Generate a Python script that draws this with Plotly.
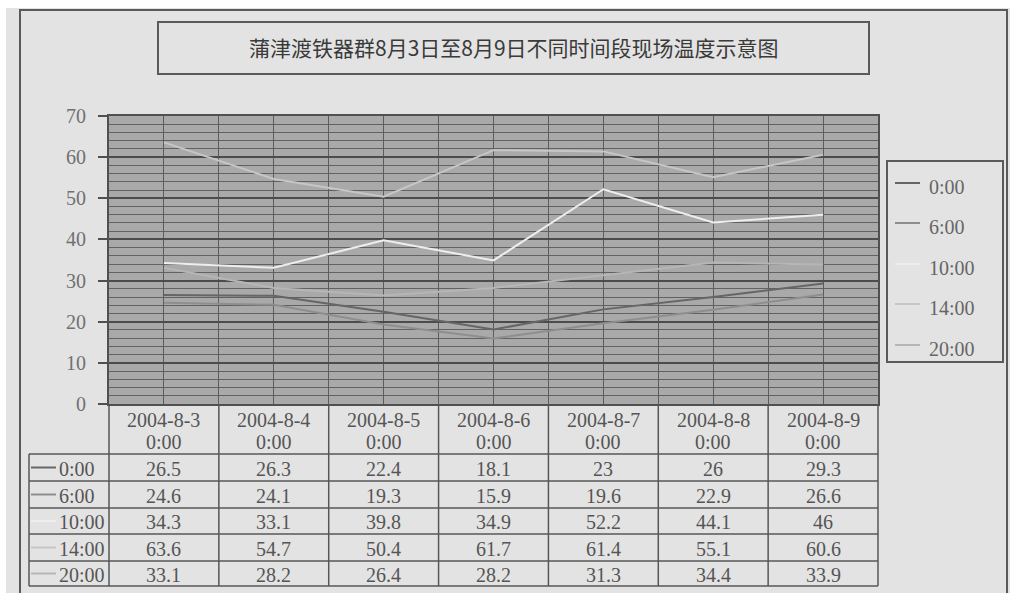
import plotly.graph_objects as go

# Dates on the category axis (each reading taken at 0:00 of that day)
dates = ["2004-8-3", "2004-8-4", "2004-8-5", "2004-8-6", "2004-8-7", "2004-8-8", "2004-8-9"]
date_time = "0:00"

# Time-of-day series names
series_names = ["0:00", "6:00", "10:00", "14:00", "20:00"]

# Site temperatures (°C) per time of day
temp_0000 = [26.5, 26.3, 22.4, 18.1, 23, 26, 29.3]
temp_0600 = [24.6, 24.1, 19.3, 15.9, 19.6, 22.9, 26.6]
temp_1000 = [34.3, 33.1, 39.8, 34.9, 52.2, 44.1, 46]
temp_1400 = [63.6, 54.7, 50.4, 61.7, 61.4, 55.1, 60.6]
temp_2000 = [33.1, 28.2, 26.4, 28.2, 31.3, 34.4, 33.9]

y_ticks = [0, 10, 20, 30, 40, 50, 60, 70]

title_text = "蒲津渡铁器群8月3日至8月9日不同时间段现场温度示意图"

series_values = [temp_0000, temp_0600, temp_1000, temp_1400, temp_2000]
series_colors = ["#666666", "#8e8e8e", "#eeeeee", "#c6c6c6", "#b6b6b6"]

W, H = 1010, 593
PL, PR, PT, PB = 109, 878, 116, 404  # plot area in pixels

SERIF = "Liberation Serif"
TEXT_DARK = "#555555"
LINE_DARK = "#575757"


def px(x):
    return (x - PL) / (PR - PL)


def py(y):
    return (PB - y) / (PB - PT)


fig = go.Figure()
xs = list(range(len(dates)))
for name, vals, col in zip(series_names, series_values, series_colors):
    fig.add_trace(go.Scatter(x=xs, y=vals, mode="lines", name=name,
                             line=dict(color=col, width=2), showlegend=False))

shapes = []
annotations = []


def rect(x0, y0, x1, y1, color=LINE_DARK, width=2, fill=None, layer="above"):
    shapes.append(dict(type="rect", xref="paper", yref="paper",
                       x0=px(x0), x1=px(x1), y0=py(y0), y1=py(y1),
                       line=dict(color=color, width=width),
                       fillcolor=fill, layer=layer))


def hline(x0, x1, y, color=LINE_DARK, width=1.5):
    shapes.append(dict(type="line", xref="paper", yref="paper",
                       x0=px(x0), x1=px(x1), y0=py(y), y1=py(y),
                       line=dict(color=color, width=width)))


def vline(x, y0, y1, color=LINE_DARK, width=1.5):
    shapes.append(dict(type="line", xref="paper", yref="paper",
                       x0=px(x), x1=px(x), y0=py(y0), y1=py(y1),
                       line=dict(color=color, width=width)))


def text(x, y, s, size=20, color=TEXT_DARK, anchor="center", family=SERIF):
    annotations.append(dict(xref="paper", yref="paper", x=px(x), y=py(y),
                            text=s, showarrow=False, xanchor=anchor,
                            yanchor="middle",
                            font=dict(family=family, size=size, color=color)))


# white page margin at top/left of the sheet
rect(0, 0, W, 8, color="rgba(0,0,0,0)", width=0, fill="#ffffff", layer="below")
rect(0, 0, 6, H, color="rgba(0,0,0,0)", width=0, fill="#ffffff", layer="below")

# chart frame
rect(20, 10, 1007, H + 10, color="#5a5a5a", width=2)

# title box
rect(158, 22, 869, 74, color="#5a5a5a", width=2)
text((158 + 869) / 2, 47, title_text, size=21, color="#3a3a3a",
     family="Noto Sans CJK SC")

# legend box
rect(887, 161, 1003, 362, color="#5a5a5a", width=2)
leg_y = [187, 227, 268, 308, 349]
for name, col, yy in zip(series_names, series_colors, leg_y):
    hline(895, 920, yy - 4, color=col, width=2)
    text(927, yy, name, size=20, color="#666666", anchor="left")

# data table under the plot
cat_w = (PR - PL) / len(dates)
bounds = [PL + i * cat_w for i in range(len(dates) + 1)]
row_lines = [454, 481, 508, 534, 561, 586]
table_top = 405

for b in bounds:
    vline(b, table_top, row_lines[-1])
for r in row_lines:
    hline(29, PR, r)
vline(29, row_lines[0], row_lines[-1])

for i, d in enumerate(dates):
    cx = (bounds[i] + bounds[i + 1]) / 2
    text(cx, 420, d)
    text(cx, 442, date_time)

for j, (name, vals, col) in enumerate(zip(series_names, series_values, series_colors)):
    cy = (row_lines[j] + row_lines[j + 1]) / 2 + 1
    hline(31, 56, cy - 1, color=col, width=2)
    text(57, cy, name, anchor="left")
    for i, v in enumerate(vals):
        cx = (bounds[i] + bounds[i + 1]) / 2
        text(cx, cy, f"{v:g}")

fig.update_layout(
    width=W, height=H,
    margin=dict(l=PL, r=W - PR, t=PT, b=H - PB, pad=0),
    paper_bgcolor="#e3e3e3",
    plot_bgcolor="#a9a9a9",
    showlegend=False,
    shapes=shapes,
    annotations=annotations,
    xaxis=dict(range=[-0.5, len(dates) - 0.5], tick0=-0.5, dtick=0.5,
               showticklabels=False, ticks="", showgrid=True,
               gridcolor="#5c5c5c", gridwidth=1, zeroline=False,
               showline=True, mirror=True, linecolor="#505050", linewidth=2),
    yaxis=dict(range=[0, 70], tickvals=y_ticks, ticktext=[str(t) for t in y_ticks],
               ticks="outside", ticklen=9, tickwidth=2, tickcolor="#505050",
               ticklabelstandoff=8,
               tickfont=dict(family=SERIF, size=20, color="#707070"),
               showgrid=True, gridcolor="#4c4c4c", gridwidth=2, zeroline=False,
               minor=dict(dtick=2, showgrid=True, gridcolor="#626262", gridwidth=1),
               showline=True, mirror=True, linecolor="#505050", linewidth=2),
)

fig.write_html("out.html")
